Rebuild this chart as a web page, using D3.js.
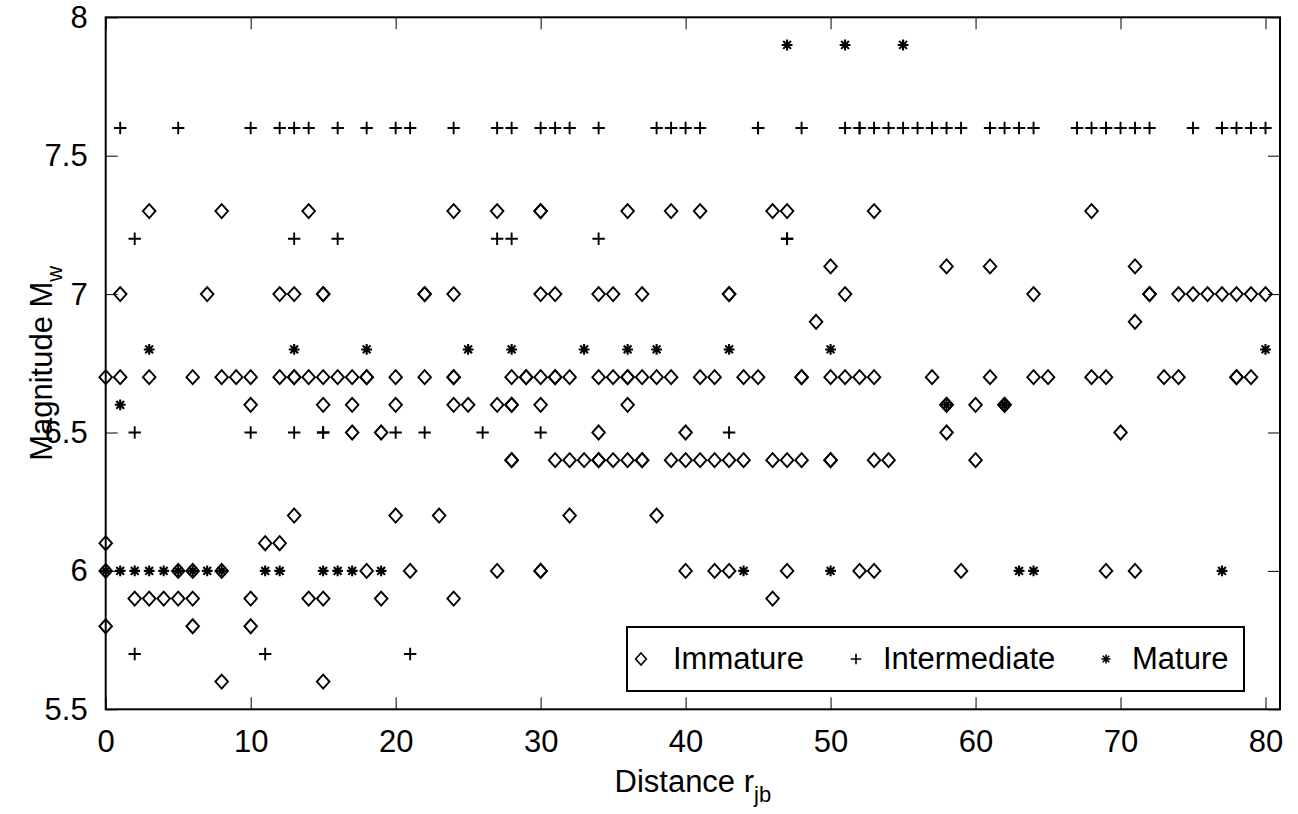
<!DOCTYPE html>
<html>
<head>
<meta charset="utf-8">
<script src="https://cdn.jsdelivr.net/npm/d3@7"></script>
<style>
  body { margin: 0; background: #fff; }
  text { font-family: "Liberation Sans", Arial, Helvetica, sans-serif; fill: #000; }
</style>
</head>
<body>
<div id="chart"></div>
<script>
// data: [distance r_jb, magnitude Mw]
var immature = [
  [0,6.7],[0,6.1],[0,6.0],[0,5.8],[1,7.0],[1,6.7],[2,5.9],[3,7.3],[3,6.7],[3,5.9],
  [4,5.9],[5,6.0],[5,5.9],[6,6.7],[6,6.0],[6,5.9],[6,5.8],[7,7.0],[8,7.3],[8,6.7],
  [8,6.0],[8,5.6],[9,6.7],[10,6.7],[10,6.6],[10,5.9],[10,5.8],[11,6.1],[12,7.0],[12,6.7],
  [12,6.1],[13,7.0],[13,6.7],[13,6.7],[13,6.2],[14,7.3],[14,6.7],[14,5.9],[15,7.0],[15,7.0],
  [15,6.7],[15,6.6],[15,5.9],[15,5.6],[16,6.7],[17,6.7],[17,6.6],[17,6.5],[18,6.7],[18,6.7],
  [18,6.0],[19,6.5],[19,5.9],[20,6.7],[20,6.6],[20,6.2],[21,6.0],[22,7.0],[22,7.0],[22,6.7],
  [23,6.2],[24,7.3],[24,7.0],[24,6.7],[24,6.7],[24,6.6],[24,5.9],[25,6.6],[27,7.3],[27,6.6],
  [27,6.0],[28,6.7],[28,6.6],[28,6.6],[28,6.4],[28,6.4],[29,6.7],[29,6.7],[30,7.3],[30,7.3],
  [30,7.0],[30,6.7],[30,6.6],[30,6.0],[30,6.0],[31,7.0],[31,6.7],[31,6.7],[31,6.4],[32,6.7],
  [32,6.4],[32,6.2],[33,6.4],[34,7.0],[34,6.7],[34,6.5],[34,6.4],[34,6.4],[35,7.0],[35,6.7],
  [35,6.4],[36,7.3],[36,6.7],[36,6.7],[36,6.6],[36,6.4],[37,7.0],[37,6.7],[37,6.4],[37,6.4],
  [38,6.7],[38,6.2],[39,7.3],[39,6.7],[39,6.4],[40,6.5],[40,6.4],[40,6.0],[41,7.3],[41,6.7],
  [41,6.4],[42,6.7],[42,6.4],[42,6.0],[43,7.0],[43,7.0],[43,6.4],[43,6.0],[44,6.7],[44,6.4],
  [45,6.7],[46,7.3],[46,6.4],[46,5.9],[47,7.3],[47,6.4],[47,6.0],[48,6.7],[48,6.7],[48,6.4],
  [49,6.9],[50,7.1],[50,6.7],[50,6.4],[50,6.4],[51,7.0],[51,6.7],[52,6.7],[52,6.0],[53,7.3],
  [53,6.7],[53,6.4],[53,6.0],[54,6.4],[57,6.7],[58,7.1],[58,6.6],[58,6.6],[58,6.5],[59,6.0],
  [60,6.6],[60,6.4],[61,7.1],[61,6.7],[62,6.6],[62,6.6],[64,7.0],[64,6.7],[65,6.7],[68,7.3],
  [68,6.7],[69,6.7],[69,6.0],[70,6.5],[71,7.1],[71,6.9],[71,6.0],[72,7.0],[72,7.0],[73,6.7],
  [74,7.0],[74,6.7],[75,7.0],[76,7.0],[77,7.0],[78,7.0],[78,6.7],[78,6.7],[79,7.0],[79,6.7],
  [80,7.0]
];

var intermediate = [
  [1,7.6],[5,7.6],[10,7.6],[12,7.6],[13,7.6],[14,7.6],[16,7.6],[18,7.6],[20,7.6],[21,7.6],
  [24,7.6],[27,7.6],[28,7.6],[30,7.6],[31,7.6],[32,7.6],[34,7.6],[38,7.6],[39,7.6],[40,7.6],
  [41,7.6],[45,7.6],[45,7.6],[48,7.6],[51,7.6],[52,7.6],[52,7.6],[53,7.6],[54,7.6],[55,7.6],
  [56,7.6],[57,7.6],[57,7.6],[58,7.6],[59,7.6],[61,7.6],[62,7.6],[63,7.6],[64,7.6],[67,7.6],
  [67,7.6],[68,7.6],[69,7.6],[69,7.6],[70,7.6],[71,7.6],[72,7.6],[75,7.6],[77,7.6],[77,7.6],
  [78,7.6],[79,7.6],[80,7.6],
  [2,7.2],[13,7.2],[16,7.2],[27,7.2],[28,7.2],[34,7.2],[47,7.2],[47,7.2],
  [2,6.5],[10,6.5],[13,6.5],[15,6.5],[15,6.5],[20,6.5],[22,6.5],[26,6.5],[30,6.5],[43,6.5],
  [62,6.6],
  [2,5.7],[11,5.7],[21,5.7]
];

var mature = [
  [47,7.9],[51,7.9],[55,7.9],
  [3,6.8],[13,6.8],[18,6.8],[25,6.8],[28,6.8],[33,6.8],[36,6.8],[38,6.8],[43,6.8],[50,6.8],[80,6.8],
  [1,6.6],[58,6.6],[62,6.6],
  [0,6.0],[1,6.0],[2,6.0],[3,6.0],[4,6.0],[5,6.0],[6,6.0],[7,6.0],[8,6.0],[11,6.0],
  [12,6.0],[15,6.0],[16,6.0],[17,6.0],[19,6.0],[44,6.0],[50,6.0],[63,6.0],[64,6.0],[77,6.0]
];

var seriesNames = ["Immature", "Intermediate", "Mature"];
var xTicks = [0, 10, 20, 30, 40, 50, 60, 70, 80];
var yTicks = [5.5, 6, 6.5, 7, 7.5, 8];

function init() {
  var w = 1298;
  var h = 814;
  var margin = { left: 105.7, right: 18, top: 17.3, bottom: 104.7 };
  var tickLen = 12;
  var fontSize = 31;

  var svg = d3.select("#chart")
    .append("svg")
    .attr("width", w)
    .attr("height", h);

  // scales
  var x = d3.scaleLinear()
    .domain([0, 81])
    .range([margin.left, w - margin.right]);

  var y = d3.scaleLinear()
    .domain([5.5, 8])
    .range([h - margin.bottom, margin.top]);

  // marker shapes (MATLAB style)
  var diamond = {
    draw: function(ctx, s) {
      var a = 6.3 * s, b = 7 * s;
      ctx.moveTo(0, -b); ctx.lineTo(a, 0); ctx.lineTo(0, b); ctx.lineTo(-a, 0); ctx.closePath();
    }
  };
  var plus = {
    draw: function(ctx, s) {
      var r = 6.2 * s;
      ctx.moveTo(-r, 0); ctx.lineTo(r, 0);
      ctx.moveTo(0, -r); ctx.lineTo(0, r);
    }
  };
  var star = {
    draw: function(ctx, s) {
      var r = 5.4 * s, d = r * 0.72;
      ctx.moveTo(-r, 0); ctx.lineTo(r, 0);
      ctx.moveTo(0, -r); ctx.lineTo(0, r);
      ctx.moveTo(-d, -d); ctx.lineTo(d, d);
      ctx.moveTo(-d, d); ctx.lineTo(d, -d);
    }
  };
  var shapes = [diamond, plus, star];
  var allData = [immature, intermediate, mature];

  // axes (ticks inside, box on)
  var gx = svg.append("g")
    .attr("transform", "translate(0," + y.range()[0] + ")")
    .call(d3.axisBottom(x).tickValues(xTicks).tickSize(-tickLen).tickPadding(tickLen + 9).tickFormat(d3.format("d")));
  var gxTop = svg.append("g")
    .attr("transform", "translate(0," + y.range()[1] + ")")
    .call(d3.axisTop(x).tickValues(xTicks).tickSize(-tickLen).tickFormat(""));
  var gy = svg.append("g")
    .attr("transform", "translate(" + x.range()[0] + ",0)")
    .call(d3.axisLeft(y).tickValues(yTicks).tickSize(-tickLen).tickPadding(tickLen + 6).tickFormat(function(d) { return String(d); }));
  var gyRight = svg.append("g")
    .attr("transform", "translate(" + x.range()[1] + ",0)")
    .call(d3.axisRight(y).tickValues(yTicks).tickSize(-tickLen).tickFormat(""));

  [gx, gxTop, gy, gyRight].forEach(function(g) {
    g.select(".domain").remove();
    g.selectAll(".tick line").attr("stroke", "#000").attr("stroke-width", 1);
    g.selectAll("text")
      .style("font-family", "Liberation Sans, Arial, sans-serif")
      .style("font-size", fontSize + "px")
      .attr("fill", "#000");
  });

  // frame
  svg.append("rect")
    .attr("x", x.range()[0])
    .attr("y", y.range()[1])
    .attr("width", x.range()[1] - x.range()[0])
    .attr("height", y.range()[0] - y.range()[1])
    .attr("fill", "none")
    .attr("stroke", "#000")
    .attr("stroke-width", 2);

  // points
  allData.forEach(function(data, i) {
    svg.append("g")
      .selectAll("path")
      .data(data)
      .enter()
      .append("path")
      .attr("transform", function(d) { return "translate(" + x(d[0]) + "," + y(d[1]) + ")"; })
      .attr("d", d3.symbol().type(shapes[i]).size(1))
      .attr("fill", "none")
      .attr("stroke", "#000")
      .attr("stroke-width", i === 2 ? 2.1 : 1.9);
  });

  // axis labels
  var xl = svg.append("text")
    .attr("x", (x.range()[0] + x.range()[1]) / 2)
    .attr("y", 792)
    .attr("text-anchor", "middle")
    .style("font-size", fontSize + "px");
  xl.append("tspan").text("Distance r");
  xl.append("tspan").attr("dy", 10).style("font-size", "22px").text("jb");

  var yl = svg.append("text")
    .attr("transform", "translate(52," + ((y.range()[0] + y.range()[1]) / 2) + ") rotate(-90)")
    .attr("text-anchor", "middle")
    .style("font-size", fontSize + "px");
  yl.append("tspan").text("Magnitude M");
  yl.append("tspan").attr("dy", 10).style("font-size", "22px").text("w");

  // legend
  var legend = svg.append("g").attr("class", "legend");
  legend.append("rect")
    .attr("x", 627)
    .attr("y", 627)
    .attr("width", 617)
    .attr("height", 64)
    .attr("fill", "#fff")
    .attr("stroke", "#000")
    .attr("stroke-width", 2);

  var legendMarkX = [641, 856, 1106];
  var legendTextX = [673, 883, 1132];
  seriesNames.forEach(function(name, i) {
    legend.append("path")
      .attr("transform", "translate(" + legendMarkX[i] + ",659)")
      .attr("d", d3.symbol().type(shapes[i]).size(0.85))
      .attr("fill", "none")
      .attr("stroke", "#000")
      .attr("stroke-width", 1.6);
    legend.append("text")
      .attr("x", legendTextX[i])
      .attr("y", 669)
      .style("font-size", fontSize + "px")
      .text(name);
  });
}

window.onload = init;
</script>
</body>
</html>
